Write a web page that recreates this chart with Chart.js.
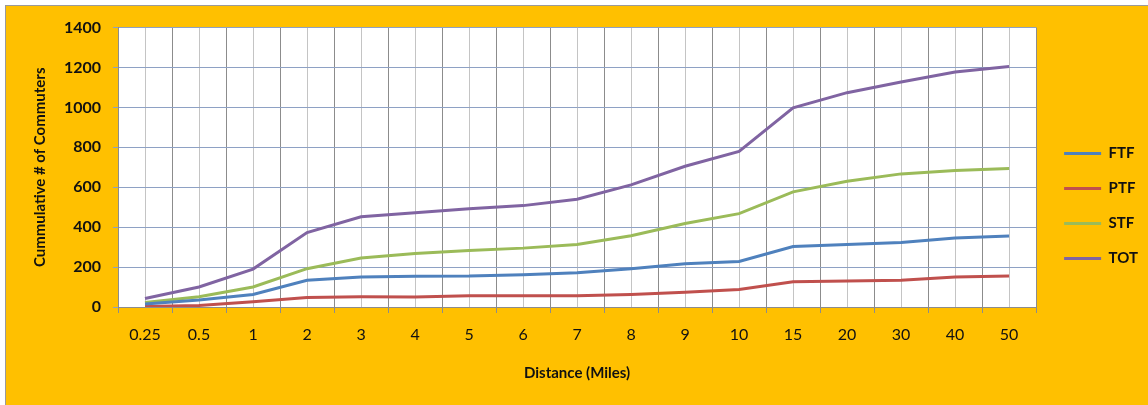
<!DOCTYPE html>
<html>
<head>
<meta charset="utf-8">
<script src="https://cdn.jsdelivr.net/npm/chart.js@4"></script>
<style>
  html, body { margin: 0; padding: 0; background: #fff; }
  #wrap {
    position: absolute; left: 5px; top: 5px;
    width: 1142px; height: 399px;
    background: #FFC000;
    border-left: 1px solid #9a9a9a;
    border-top: 1px solid #9a9a9a;
  }
</style>
</head>
<body>
<div id="wrap"><canvas id="chart" width="1142" height="399"></canvas></div>
<script>
// distance buckets (miles) and cumulative commuter counts
const categories = ["0.25", "0.5", "1", "2", "3", "4", "5", "6", "7", "8", "9", "10", "15", "20", "30", "40", "50"];
const ftf = [15, 35, 63, 134, 150, 154, 155, 162, 172, 192, 217, 228, 303, 313, 323, 346, 356];
const ptf = [3, 8, 26, 48, 51, 50, 56, 56, 56, 63, 74, 88, 126, 130, 134, 150, 155];
const stf = [22, 51, 100, 192, 245, 268, 283, 295, 313, 357, 418, 468, 577, 630, 667, 684, 694];
const tot = [43, 100, 190, 373, 452, 472, 492, 508, 540, 612, 705, 780, 998, 1074, 1127, 1177, 1205];
const yTicks = [0, 200, 400, 600, 800, 1000, 1200, 1400];

const textColor = "#111";
const fontFamily = "Lato, 'Open Sans', sans-serif";

// white plot background
const plotBg = {
  id: "plotBg",
  beforeDraw(chart) {
    const a = chart.chartArea;
    const ctx = chart.ctx;
    ctx.save();
    ctx.fillStyle = "#fff";
    ctx.fillRect(a.left, a.top, a.right - a.left, a.bottom - a.top);
    ctx.restore();
  }
};

function series(label, data, color) {
  return {
    label: label,
    data: data,
    borderColor: color,
    backgroundColor: color,
    borderWidth: 3,
    pointRadius: 0,
    tension: 0,
    fill: false
  };
}

new Chart(document.getElementById("chart"), {
  type: "line",
  data: {
    labels: categories,
    datasets: [
      series("FTF", ftf, "#4F81BD"),
      series("PTF", ptf, "#C0504D"),
      series("STF", stf, "#9BBB59"),
      series("TOT", tot, "#8064A2")
    ]
  },
  options: {
    responsive: false,
    animation: false,
    layout: { padding: { top: 19, bottom: 18, left: 0, right: 0 } },
    plugins: {
      legend: {
        position: "right",
        labels: {
          usePointStyle: true,
          pointStyle: "line",
          pointStyleWidth: 37,
          padding: 20,
          color: textColor,
          font: { family: fontFamily, size: 15, weight: "bold" }
        }
      },
      tooltip: { enabled: false }
    },
    scales: {
      x: {
        offset: true,
        grid: { offset: true, color: "#8c8c8c", tickLength: 6, tickColor: "#8c8c8c" },
        border: { color: "#8c8c8c" },
        ticks: { color: textColor, padding: 12, maxRotation: 0, font: { family: fontFamily, size: 16 } },
        title: {
          display: true,
          text: "Distance (Miles)",
          color: textColor,
          padding: { top: 0, bottom: 5 },
          font: { family: fontFamily, size: 15, weight: "bold" }
        },
        afterFit(s) { s.height = 80; }
      },
      x2: {
        type: "category",
        labels: categories,
        position: "bottom",
        offset: true,
        grid: { offset: false, color: "#c4c4c4", drawTicks: false },
        border: { display: false },
        ticks: { display: false },
        afterFit(s) { s.height = 0; }
      },
      y: {
        min: 0,
        max: 1400,
        afterBuildTicks(s) { s.ticks = yTicks.map(v => ({ value: v })); },
        grid: { color: "#8ea1c4", tickLength: 5, tickColor: "#8ea1c4" },
        border: { color: "#8c8c8c" },
        ticks: {
          color: textColor,
          padding: 12,
          font: { family: fontFamily, size: 16, weight: "bold" },
          callback: v => String(v)
        },
        title: {
          display: true,
          text: "Cummulative # of Commuters",
          color: textColor,
          padding: { top: 25, bottom: 0 },
          font: { family: fontFamily, size: 15, weight: "bold" }
        },
        afterFit(s) { s.width = 112; }
      },
      yr: {
        position: "right",
        min: 0,
        max: 1400,
        grid: { display: false },
        border: { display: false },
        ticks: { display: false },
        afterFit(s) { s.width = 8; }
      }
    }
  },
  plugins: [plotBg]
});
</script>
</body>
</html>
